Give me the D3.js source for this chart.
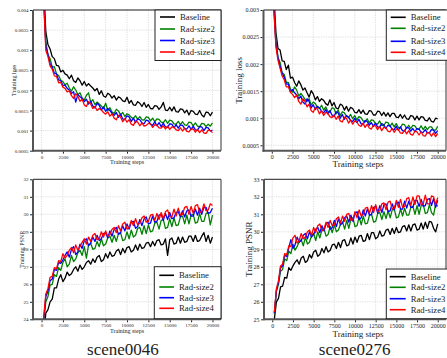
<!DOCTYPE html>
<html><head><meta charset="utf-8">
<script src="https://cdn.jsdelivr.net/npm/d3@7"></script>
<style>body{margin:0;background:#fff}svg{display:block}text{font-family:"Liberation Serif","Times New Roman",serif;fill:#222}</style>
</head><body><svg id="c" width="447" height="358"></svg>
<script>
const steps = [250,500,750,1000,1250,1500,1750,2000,2250,2500,2750,3000,3250,3500,3750,4000,4250,4500,4750,5000,
5250,5500,5750,6000,6250,6500,6750,7000,7250,7500,7750,8000,8250,8500,8750,9000,9250,9500,9750,10000,
10250,10500,10750,11000,11250,11500,11750,12000,12250,12500,12750,13000,13250,13500,13750,14000,14250,14500,14750,15000,
15250,15500,15750,16000,16250,16500,16750,17000,17250,17500,17750,18000,18250,18500,18750,19000,19250,19500,19750,20000];

const seriesNames = ["Baseline","Rad-size2","Rad-size3","Rad-size4"];
const seriesColors = ["#000000","#008000","#0000ff","#ff0000"];
const stepTicks = [0,2500,5000,7500,10000,12500,15000,17500,20000];
const stepTickLabels = ["0","2500","5000","7500","10000","12500","15000","17500","20000"];
const lossTicks0046 = [0.0005,0.001,0.0015,0.002,0.0025,0.003,0.0035,0.004];
const lossTickLabels0046 = ["0.0005","0.001","0.0015","0.002","0.0025","0.003","0.0035","0.004"];
const lossTicks0276 = [0.0005,0.001,0.0015,0.002,0.0025,0.003];
const lossTickLabels0276 = ["0.0005","0.001","0.0015","0.002","0.0025","0.003"];
const psnrTicks0046 = [24,25,26,27,28,29,30,31,32];
const psnrTicks0276 = [25,26,27,28,29,30,31,32,33];

// scene0046 training loss
const loss0046Baseline = [0.0046,0.00346,0.00314,0.00303,0.00284,0.00279,0.00262,0.00261,0.00246,0.0025,
0.00241,0.00238,0.00229,0.00238,0.00224,0.0022,0.00231,0.00224,0.00213,0.00222,
0.00211,0.00217,0.00211,0.00206,0.00199,0.00205,0.0019,0.00199,0.00186,0.00183,
0.00193,0.00189,0.00181,0.00187,0.00176,0.00184,0.00181,0.00174,0.00172,0.00183,
0.00168,0.00175,0.00164,0.00163,0.00172,0.00168,0.0016,0.0017,0.00158,0.00165,
0.00155,0.00154,0.00162,0.00161,0.00153,0.00159,0.0017,0.00151,0.0015,0.00158,
0.00149,0.00159,0.00147,0.00146,0.00154,0.00153,0.00144,0.00151,0.00139,0.0015,
0.00148,0.00141,0.0014,0.0015,0.00139,0.00134,0.00146,0.00145,0.00137,0.00146];
const loss0046Rad2 = [0.0044,0.00322,0.00288,0.00279,0.00258,0.00259,0.00241,0.00237,0.00225,0.00222,
0.00214,0.00218,0.00206,0.00198,0.00209,0.00201,0.0019,0.00194,0.00181,0.00176,
0.00188,0.00194,0.00171,0.00177,0.00165,0.00171,0.00166,0.00161,0.00155,0.00168,
0.0015,0.00157,0.00146,0.00143,0.00153,0.00149,0.00139,0.00145,0.00135,0.00142,
0.00139,0.00133,0.0013,0.00137,0.00128,0.00135,0.00127,0.00126,0.00134,0.00133,
0.00124,0.00131,0.00122,0.00129,0.00128,0.00121,0.0012,0.00127,0.00118,0.00126,
0.00124,0.00117,0.00116,0.00123,0.00115,0.00122,0.00114,0.00113,0.00121,0.0012,
0.00112,0.00119,0.00111,0.0011,0.00118,0.00117,0.0011,0.00116,0.00111,0.00119];
const loss0046Rad3 = [0.0043,0.0031,0.0029,0.00266,0.00258,0.00243,0.00241,0.00226,0.00224,0.00212,
0.00213,0.00205,0.00201,0.00192,0.00197,0.00171,0.0019,0.00184,0.0018,0.00172,
0.00178,0.00166,0.00173,0.00161,0.00156,0.00168,0.00163,0.00151,0.00159,0.00148,
0.00155,0.0015,0.00143,0.00138,0.00145,0.00133,0.00141,0.00129,0.00127,0.00137,
0.00134,0.00123,0.00131,0.0012,0.00129,0.00127,0.00119,0.00117,0.00126,0.00124,
0.00116,0.00113,0.00122,0.00112,0.0012,0.0011,0.00119,0.00109,0.00108,0.00117,
0.00116,0.00107,0.00115,0.00106,0.00114,0.00113,0.00105,0.00104,0.00112,0.00103,
0.00111,0.00102,0.00101,0.0011,0.00109,0.001,0.00108,0.00107,0.00099,0.00101];
const loss0046Rad4 = [0.0042,0.003,0.00284,0.00261,0.00253,0.00236,0.00235,0.00219,0.0022,0.00208,
0.00205,0.00196,0.00199,0.00187,0.0018,0.00192,0.00185,0.00173,0.00178,0.00164,
0.0016,0.00172,0.00166,0.00155,0.0016,0.0015,0.00155,0.00151,0.00145,0.00141,
0.00147,0.00136,0.00142,0.00131,0.00127,0.00138,0.00133,0.00122,0.0013,0.00121,
0.00127,0.00116,0.00113,0.00124,0.00121,0.00112,0.00119,0.00111,0.00113,0.00118,
0.00117,0.00108,0.00115,0.00113,0.00107,0.00106,0.00112,0.00104,0.00111,0.00103,
0.00109,0.00108,0.00102,0.001,0.00107,0.00099,0.00106,0.00098,0.00097,0.00104,
0.00104,0.00096,0.00103,0.00095,0.00102,0.00094,0.00093,0.00101,0.001,0.00095];

// scene0276 training loss
const loss0276Baseline = [0.0033,0.00258,0.00229,0.00226,0.00206,0.00205,0.0019,0.00198,0.00174,0.00176,
0.00166,0.00159,0.00169,0.00162,0.00152,0.00156,0.00147,0.00139,0.00151,0.00145,
0.00134,0.0014,0.00131,0.00136,0.00133,0.00127,0.00124,0.00134,0.00123,0.00129,
0.00119,0.00117,0.00126,0.00124,0.00115,0.00122,0.00113,0.0012,0.00118,0.00111,
0.0011,0.00116,0.00109,0.00115,0.00108,0.00107,0.00114,0.00113,0.00106,0.00106,
0.00113,0.00112,0.00105,0.00111,0.00104,0.0011,0.00103,0.00109,0.00109,0.00102,
0.00101,0.00107,0.001,0.00106,0.00099,0.00098,0.00105,0.00104,0.00097,0.00104,
0.00097,0.00103,0.00102,0.00096,0.00095,0.00101,0.00094,0.00093,0.001,0.00099];
const loss0276Rad2 = [0.0031,0.00244,0.00212,0.00203,0.00184,0.00181,0.00166,0.00166,0.00154,0.00148,
0.00158,0.00152,0.00141,0.00146,0.00141,0.00135,0.00131,0.00136,0.00124,0.0013,
0.00127,0.0012,0.00118,0.00124,0.00115,0.00121,0.00113,0.00111,0.00119,0.00118,
0.00108,0.00115,0.00105,0.00112,0.0011,0.00104,0.00101,0.00107,0.00099,0.00105,
0.00097,0.00103,0.00101,0.00095,0.00093,0.00099,0.00091,0.00097,0.00096,0.0009,
0.00089,0.00095,0.00087,0.00086,0.00093,0.00092,0.00085,0.00091,0.00084,0.0009,
0.00083,0.00082,0.00089,0.00088,0.00081,0.00087,0.00081,0.00087,0.00086,0.0008,
0.0008,0.00086,0.00079,0.00085,0.00079,0.00084,0.00084,0.00078,0.00078,0.00085];
const loss0276Rad3 = [0.00305,0.00236,0.00212,0.00196,0.00183,0.00176,0.00163,0.00163,0.00149,0.00153,
0.00147,0.00143,0.00136,0.00141,0.0013,0.00126,0.00136,0.00131,0.00119,0.00125,
0.00116,0.00122,0.00119,0.00113,0.0011,0.00116,0.00108,0.00114,0.00106,0.00103,
0.00112,0.0011,0.001,0.00107,0.00098,0.00105,0.00102,0.00096,0.00094,0.001,
0.00092,0.00098,0.0009,0.00088,0.00096,0.00094,0.00087,0.00092,0.00085,0.00091,
0.00084,0.00083,0.0009,0.00088,0.00081,0.00087,0.00086,0.0008,0.00079,0.00085,
0.00078,0.00084,0.00077,0.00076,0.00083,0.00082,0.00076,0.00081,0.00075,0.00081,
0.0008,0.00074,0.00074,0.00079,0.00073,0.00073,0.00079,0.00078,0.00072,0.00077];
const loss0276Rad4 = [0.003,0.00232,0.00207,0.00192,0.00178,0.00171,0.00158,0.00158,0.00148,0.00144,
0.00138,0.00143,0.00131,0.00126,0.00136,0.00131,0.00121,0.00126,0.00114,0.00111,
0.0012,0.00117,0.00108,0.00114,0.00105,0.00111,0.00109,0.00103,0.00101,0.00106,
0.00098,0.00104,0.00095,0.00093,0.00102,0.001,0.00091,0.00097,0.00089,0.00095,
0.00093,0.00087,0.00085,0.00091,0.00083,0.00089,0.00082,0.0008,0.00087,0.00086,
0.00079,0.00085,0.00077,0.00083,0.00082,0.00076,0.00075,0.00081,0.00074,0.0008,
0.00079,0.00073,0.00072,0.00078,0.00071,0.00077,0.0007,0.00069,0.00076,0.00075,
0.00069,0.00075,0.00068,0.00067,0.00074,0.00073,0.00067,0.00073,0.00066,0.00072];

// scene0046 training PSNR
const psnr0046Baseline = [23.0,24.35,24.55,25.0,25.15,25.8,25.8,26.3,26.55,26.15,
26.35,26.7,26.5,26.6,26.85,27.0,26.75,27.1,26.85,27.0,
27.25,27.35,27.15,27.45,27.25,27.55,27.65,27.3,27.4,27.75,
27.5,27.85,27.6,27.65,27.9,28.0,27.7,28.05,27.8,28.1,
28.15,27.85,27.95,28.25,27.95,28.3,28.05,28.1,28.35,28.4,
28.15,28.45,28.2,28.5,28.55,28.25,28.3,28.6,27.65,28.55,
28.65,28.3,28.35,28.7,28.35,28.7,28.4,28.45,28.75,28.75,
28.45,28.8,28.45,28.5,28.75,28.95,28.45,28.8,28.35,28.7];
const psnr0046Rad2 = [23.8,25.0,25.3,25.95,26.0,26.55,26.45,26.95,26.8,27.25,
27.45,27.0,27.15,27.65,27.3,27.45,27.8,27.95,27.65,28.15,
27.5,28.25,28.35,28.0,28.05,28.45,28.15,28.6,28.2,28.3,
28.65,28.75,28.4,28.8,28.45,28.9,28.95,28.5,28.55,29.0,
28.6,29.1,28.7,28.8,29.2,29.25,28.85,29.35,28.9,29.4,
29.0,29.05,29.5,29.55,29.15,29.65,29.7,29.2,29.25,29.75,
29.3,29.8,29.35,29.4,29.85,29.9,29.45,29.95,29.45,29.95,
30.0,29.5,29.55,30.05,29.6,29.6,30.05,30.1,29.4,29.95];
const psnr0046Rad3 = [24.0,25.3,25.6,26.2,26.3,26.85,26.8,27.25,27.2,27.4,
27.65,27.85,27.55,28.0,28.15,27.7,27.85,28.3,28.05,28.5,
28.6,28.2,28.35,28.7,28.45,28.8,28.5,28.6,28.9,28.95,
28.65,29.05,28.75,29.15,29.25,28.85,28.95,29.35,29.05,29.45,
29.15,29.55,29.6,29.2,29.3,29.7,29.35,29.75,29.85,29.45,
29.5,29.9,29.55,29.6,29.95,30.0,29.65,30.05,29.7,30.1,
29.75,29.8,30.1,30.15,29.85,30.2,29.85,30.2,30.25,29.9,
29.9,30.3,29.95,30.35,30.0,30.4,30.4,30.05,30.1,30.35];
const psnr0046Rad4 = [24.1,25.45,25.75,26.4,26.45,26.95,26.9,27.35,27.3,27.75,
27.5,27.65,27.95,28.1,27.8,28.25,27.95,28.15,28.4,28.6,
28.3,28.7,28.45,28.8,28.9,28.55,28.6,29.0,28.7,29.05,
28.75,28.85,29.15,29.25,28.95,29.35,29.05,29.45,29.55,29.15,
29.25,29.65,29.35,29.75,29.4,29.5,29.8,29.9,29.55,29.6,
29.95,30.0,29.65,30.05,29.7,30.1,29.75,30.15,30.25,29.85,
29.85,30.3,29.9,30.35,29.95,30.0,30.4,30.45,30.0,30.45,
30.05,30.5,30.55,30.1,30.15,30.6,30.2,30.25,30.6,30.5];

// scene0276 training PSNR
const psnr0276Baseline = [25.0,26.0,26.2,26.85,26.9,27.4,27.35,27.95,27.8,28.05,
28.25,28.4,28.15,28.5,28.6,28.25,28.35,28.7,28.5,28.85,
28.95,28.6,28.7,29.05,28.8,29.15,28.85,28.95,29.25,29.3,
29.05,29.4,29.1,29.5,29.55,29.2,29.25,29.65,29.3,29.7,
29.4,29.75,29.8,29.45,29.5,29.9,29.55,29.95,29.95,29.6,
29.7,30.05,29.75,29.8,30.1,30.15,29.85,30.2,29.9,30.25,
29.95,30.0,30.3,30.35,30.05,30.4,30.05,30.4,30.45,30.1,
30.15,30.5,30.15,30.55,30.2,30.6,30.55,30.2,30.0,30.45];
const psnr0276Rad2 = [25.3,26.6,27.0,27.75,27.85,28.45,28.35,28.9,28.75,29.3,
28.95,29.15,29.45,29.55,29.2,29.7,29.3,29.4,29.8,29.9,
29.5,30.0,29.65,30.1,30.2,29.75,29.85,30.3,29.95,30.4,
30.0,30.1,30.45,30.55,30.15,30.65,30.2,30.7,30.8,30.3,
30.35,30.85,30.4,30.9,30.45,30.5,30.95,31.0,30.55,30.6,
31.05,31.1,30.7,31.15,30.75,31.2,30.8,31.25,31.3,30.8,
30.85,31.3,30.9,31.35,30.95,30.95,31.4,31.45,31.0,31.5,
31.0,31.5,31.55,31.05,31.1,31.55,31.1,30.95,31.6,31.45];
const psnr0276Rad3 = [25.35,26.65,27.1,27.95,28.05,28.65,28.6,29.1,29.55,29.05,
29.25,29.7,29.4,29.5,29.8,29.9,29.6,30.0,29.7,29.85,
30.15,30.25,29.95,30.35,30.05,30.45,30.55,30.15,30.25,30.65,
30.3,30.75,30.4,30.5,30.8,30.9,30.55,30.95,30.6,31.05,
31.15,30.7,30.8,31.25,30.9,31.3,30.95,31.0,31.4,31.45,
31.05,31.5,31.1,31.55,31.6,31.15,31.2,31.6,31.25,31.65,
31.7,31.3,31.3,31.75,31.35,31.75,31.4,31.4,31.8,31.8,
31.45,31.85,31.45,31.5,31.85,31.9,31.5,31.9,31.4,31.8];
const psnr0276Rad4 = [25.4,26.75,27.2,28.05,28.15,28.75,28.7,29.2,29.15,29.65,
29.8,29.35,29.5,29.9,29.6,29.7,30.0,30.1,29.8,30.25,
29.95,30.35,30.45,30.05,30.15,30.55,30.25,30.65,30.35,30.4,
30.75,30.85,30.5,30.9,30.6,31.0,31.05,30.65,30.7,31.15,
30.8,31.25,30.9,31.0,31.35,31.4,31.05,31.5,31.1,31.55,
31.15,31.2,31.6,31.65,31.25,31.7,31.75,31.3,31.35,31.8,
31.4,31.85,31.4,31.45,31.9,31.95,31.5,32.0,31.55,32.05,
32.05,31.55,31.6,32.1,31.6,31.6,32.05,32.0,31.55,31.95];

const svg = d3.select("#c");

const panels = [
  {id:"tl", x0:33, x1:221, y0:10, y1:150.7, ydom:[0.0005,0.004], yticks:lossTicks0046, ylabels:lossTickLabels0046,
   series:[loss0046Baseline,loss0046Rad2,loss0046Rad3,loss0046Rad4], ylabel:"Training loss",
   tickFont:5, labFont:6, ylabX:14, xlabY:164, xlabX:127,
   legend:{x:155,y:10,w:66,h:50.5,rows:[17,29,40.5,52],lx0:160,lx1:175,tx:180}},
  {id:"tr", x0:263.5, x1:446, y0:10, y1:150.7, ydom:[0.0004,0.003], yticks:lossTicks0276, ylabels:lossTickLabels0276,
   series:[loss0276Baseline,loss0276Rad2,loss0276Rad3,loss0276Rad4], ylabel:"Training loss",
   tickFont:6, labFont:9, ylabX:239, xlabY:167.2, xlabX:358,
   legend:{x:386.3,y:10,w:62,h:50.3,rows:[17.3,28.3,41.3,52.3],lx0:390.7,lx1:405.7,tx:410.7}},
  {id:"bl", x0:33, x1:221, y0:179.3, y1:319.3, ydom:[24,32], yticks:psnrTicks0046, ylabels:psnrTicks0046.map(String),
   series:[psnr0046Baseline,psnr0046Rad2,psnr0046Rad3,psnr0046Rad4], ylabel:"Training PSNR",
   tickFont:5, labFont:6, ylabX:21.5, xlabY:332.5, xlabX:127, title:"scene0046", titleX:123,
   legend:{x:154.3,y:266.7,w:66.7,h:52,rows:[275.3,287,297.7,308.3],lx0:159.3,lx1:174,tx:179}},
  {id:"br", x0:264, x1:446, y0:179.3, y1:319.3, ydom:[25,33], yticks:psnrTicks0276, ylabels:psnrTicks0276.map(String),
   series:[psnr0276Baseline,psnr0276Rad2,psnr0276Rad3,psnr0276Rad4], ylabel:"Training PSNR",
   tickFont:6, labFont:9, ylabX:249, xlabY:336.7, xlabX:358, title:"scene0276", titleX:354.7,
   legend:{x:386.3,y:269,w:62,h:49.7,rows:[276.7,287.3,298.7,309.7],lx0:389.7,lx1:405.7,tx:410.7}}
];

panels.forEach(p => {
  const x = d3.scaleLinear().domain([-1000,21000]).range([p.x0,p.x1]);
  const y = d3.scaleLinear().domain(p.ydom).range([p.y1,p.y0]);
  const g = svg.append("g");
  g.append("clipPath").attr("id","clip-"+p.id).append("rect")
    .attr("x",p.x0).attr("y",p.y0).attr("width",p.x1-p.x0).attr("height",p.y1-p.y0);
  g.selectAll(".gx").data(stepTicks).join("line")
    .attr("x1",d=>x(d)).attr("x2",d=>x(d)).attr("y1",p.y0).attr("y2",p.y1)
    .attr("stroke","#cfcfcf").attr("stroke-width",0.7).attr("stroke-dasharray","1.2,1.2");
  g.selectAll(".gy").data(p.yticks).join("line")
    .attr("x1",p.x0).attr("x2",p.x1).attr("y1",d=>y(d)).attr("y2",d=>y(d))
    .attr("stroke","#cfcfcf").attr("stroke-width",0.7).attr("stroke-dasharray","1.2,1.2");
  const line = d3.line().x((d,i)=>x(steps[i])).y(d=>y(d));
  const lg = g.append("g").attr("clip-path","url(#clip-"+p.id+")");
  p.series.forEach((s,k)=>{
    lg.append("path").attr("d",line(s)).attr("fill","none")
      .attr("stroke",seriesColors[k]).attr("stroke-width",1.3).attr("stroke-linejoin","round");
  });
  g.append("line").attr("x1",p.x0).attr("x2",p.x1).attr("y1",p.y0).attr("y2",p.y0).attr("stroke","#222").attr("stroke-width",1);
  g.append("line").attr("x1",p.x1).attr("x2",p.x1).attr("y1",p.y0).attr("y2",p.y1).attr("stroke","#333").attr("stroke-width",1);
  g.append("line").attr("x1",p.x0).attr("x2",p.x0).attr("y1",p.y0).attr("y2",p.y1+1).attr("stroke","#555").attr("stroke-width",2);
  g.append("line").attr("x1",p.x0-1).attr("x2",p.x1).attr("y1",p.y1).attr("y2",p.y1).attr("stroke","#555").attr("stroke-width",2);
  const xa = d3.axisBottom(x).tickValues(stepTicks).tickFormat((d,i)=>stepTickLabels[i]).tickSize(2).tickPadding(1.5);
  const xg = g.append("g").attr("transform",`translate(0,${p.y1+1})`).call(xa);
  xg.select(".domain").remove();
  xg.selectAll("line").attr("stroke","#222");
  xg.selectAll("text").attr("font-size",p.tickFont).attr("font-family","Liberation Serif").attr("fill","#222");
  const ya = d3.axisLeft(y).tickValues(p.yticks).tickFormat((d,i)=>p.ylabels[i]).tickSize(2).tickPadding(1.5);
  const yg = g.append("g").attr("transform",`translate(${p.x0-1},0)`).call(ya);
  yg.select(".domain").remove();
  yg.selectAll("line").attr("stroke","#222");
  yg.selectAll("text").attr("font-size",p.tickFont).attr("font-family","Liberation Serif").attr("fill","#222");
  g.append("text").attr("x",p.xlabX).attr("y",p.xlabY).attr("text-anchor","middle").attr("font-size",p.labFont).text("Training steps");
  g.append("text").attr("transform",`translate(${p.ylabX},${(p.y0+p.y1)/2}) rotate(-90)`)
    .attr("text-anchor","middle").attr("dominant-baseline","central").attr("font-size",p.labFont).text(p.ylabel);
  if (p.title) {
    g.append("text").attr("x",p.titleX).attr("y",355.3).attr("text-anchor","middle").attr("font-size",17).attr("fill","#111").text(p.title);
  }
  const L = p.legend;
  const leg = g.append("g");
  leg.append("rect").attr("x",L.x).attr("y",L.y).attr("width",L.w).attr("height",L.h)
    .attr("fill","#fff").attr("stroke","#222").attr("stroke-width",1);
  seriesNames.forEach((n,k)=>{
    leg.append("line").attr("x1",L.lx0).attr("x2",L.lx1).attr("y1",L.rows[k]).attr("y2",L.rows[k])
      .attr("stroke",seriesColors[k]).attr("stroke-width",1.6);
    leg.append("text").attr("x",L.tx).attr("y",L.rows[k]).attr("dominant-baseline","central")
      .attr("font-size",8.7).attr("fill","#111").text(n);
  });
});
</script></body></html>
